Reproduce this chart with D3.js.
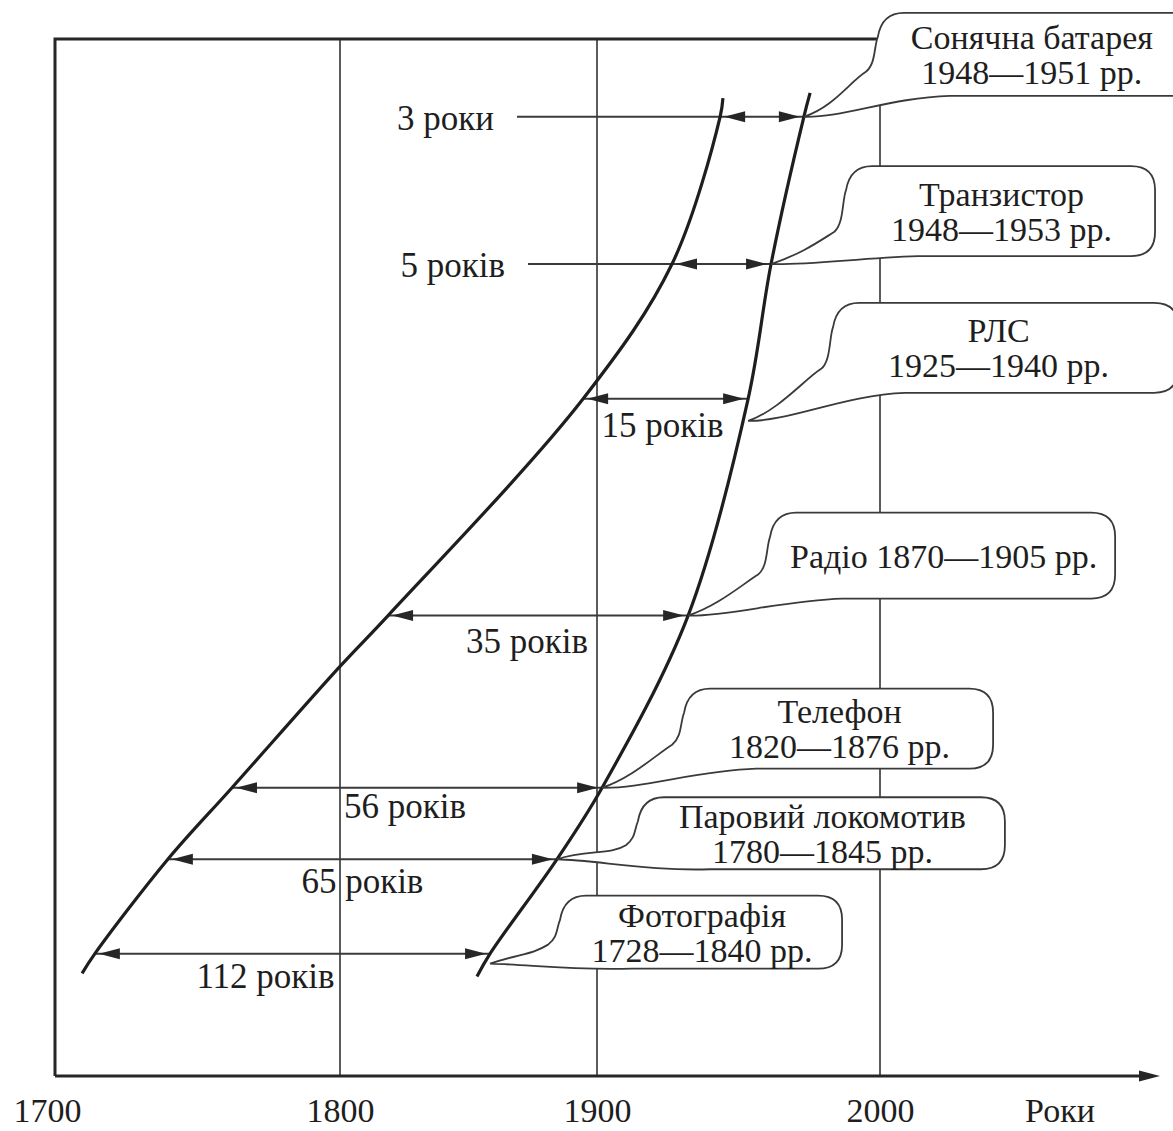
<!DOCTYPE html>
<html>
<head>
<meta charset="utf-8">
<script src="https://cdn.jsdelivr.net/npm/d3@7"></script>
<style>
  body { margin: 0; background: #fff; }
  svg text { font-family: "Liberation Serif", "DejaVu Serif", serif; fill: #1e1e1e; }
</style>
</head>
<body>
<div id="chart"></div>
<script>
// inventions, from the bottom row to the top row
var inventions = ["Фотографія", "Паровий локомотив", "Телефон", "Радіо", "РЛС", "Транзистор", "Сонячна батарея"];
var periods = ["1728—1840 рр.", "1780—1845 рр.", "1820—1876 рр.", "1870—1905 рр.", "1925—1940 рр.", "1948—1953 рр.", "1948—1951 рр."];
var gapLabels = ["112 років", "65 років", "56 років", "35 років", "15 років", "5 років", "3 роки"];

// height of each row on the (unlabelled) vertical axis, 0..100
var rowLevel = [11.8, 20.9, 27.8, 44.4, 65.3, 78.3, 92.5];
// where each row meets the two curves, read on the year axis
var ideaAt = [1714.0, 1739.6, 1762.1, 1818.7, 1894.6, 1926.5, 1943.5];
var realAt = [1858.4, 1884.4, 1901.8, 1932.2, 1953.4, 1961.5, 1973.1];

// the two curves: [year, level]
var ideaCurve = [[1709.5, 9.9], [1714.0, 11.8], [1739.6, 20.9], [1762.1, 27.8], [1800, 39.5],
  [1818.7, 44.4], [1894.6, 65.3], [1926.5, 78.3], [1943.5, 92.5], [1944.5, 94.3]];
var realCurve = [[1853.3, 9.6], [1858.4, 11.8], [1884.4, 20.9], [1901.8, 27.8], [1932.2, 44.4],
  [1953.4, 65.3], [1961.5, 78.3], [1973.1, 92.5], [1975.3, 94.8]];

var tickYears = [1700, 1800, 1900, 2000];

// ---- layout only (pixels) ----
var width = 1173, height = 1131;
// callout box relative to its pointer tip: dx, dy, w, h; tipDy moves the tip down the curve
var calloutBox = [
  { dx: 72, dy: -68, w: 280, h: 73, tipDy: 10 },
  { dx: 83, dy: -62, w: 365, h: 72, tipDy: 0 },
  { dx: 84, dy: -99, w: 307, h: 80, tipDy: 0 },
  { dx: 84, dy: -103, w: 343, h: 86, tipDy: 0 },
  { dx: 87, dy: -118, w: 343, h: 90, tipDy: 22 },
  { dx: 77, dy: -98, w: 307, h: 90, tipDy: 0 },
  { dx: 76, dy: -104, w: 320, h: 83, tipDy: 0 }
];
// gap labels: below the arrow (dx from arrow middle, baseline dy) or left of a long line
var gapLabelPos = [
  { dx: -27, dy: 34 }, { dx: 0, dy: 34 }, { dx: -12, dy: 30 }, { dx: -11, dy: 37 }, { dx: -3, dy: 38 },
  { left: 505, lineFrom: 528 }, { left: 494, lineFrom: 517 }
];

var x = d3.scaleLinear().domain(tickYears).range([55, 340, 597, 880]);
var y = d3.scaleLinear().domain([0, 100]).range([1076, 39]);

var svg = d3.select("#chart").append("svg")
  .attr("width", width)
  .attr("height", height);

var ink = "#262626";

// vertical grid lines
svg.selectAll("line.grid")
  .data(tickYears.slice(1))
  .enter()
  .append("line")
  .attr("class", "grid")
  .attr("x1", d => x(d)).attr("x2", d => x(d))
  .attr("y1", y(100)).attr("y2", y(0))
  .attr("stroke", "#4a4a4a")
  .attr("stroke-width", 1.8);

// frame: left side and top
svg.append("path")
  .attr("d", "M" + x(1700) + "," + y(0) + " V" + y(100) + " H" + x(2000))
  .attr("fill", "none")
  .attr("stroke", ink)
  .attr("stroke-width", 3);

// arrowhead helper
function arrowHead(tx, ty, dir) {
  return "M" + tx + "," + ty + " L" + (tx - dir * 21) + "," + (ty - 5.5) +
    " L" + (tx - dir * 21) + "," + (ty + 5.5) + " Z";
}

// rows: horizontal lines with arrows between the curves
inventions.forEach(function (name, i) {
  var yy = y(rowLevel[i]);
  var xl = x(ideaAt[i]), xr = x(realAt[i]);
  var pos = gapLabelPos[i];
  var start = pos.left ? pos.lineFrom : xl;
  svg.append("line")
    .attr("x1", start).attr("x2", xr)
    .attr("y1", yy).attr("y2", yy)
    .attr("stroke", "#3a3a3a")
    .attr("stroke-width", 2);
  svg.append("path").attr("d", arrowHead(xl + 4, yy, -1)).attr("fill", ink);
  svg.append("path").attr("d", arrowHead(xr - 4, yy, 1)).attr("fill", ink);

  if (pos.left) {
    svg.append("text")
      .attr("x", pos.left).attr("y", yy + 13)
      .attr("text-anchor", "end")
      .style("font-size", "35px")
      .text(gapLabels[i]);
  } else {
    svg.append("text")
      .attr("x", (xl + xr) / 2 + pos.dx).attr("y", yy + pos.dy)
      .attr("text-anchor", "middle")
      .style("font-size", "35px")
      .text(gapLabels[i]);
  }
});

// the two curves
var line = d3.line()
  .x(d => x(d[0]))
  .y(d => y(d[1]))
  .curve(d3.curveCatmullRom.alpha(0.5));

[ideaCurve, realCurve].forEach(function (c) {
  svg.append("path")
    .attr("d", line(c))
    .attr("fill", "none")
    .attr("stroke", "#1e1e1e")
    .attr("stroke-width", 3.2);
});

// callout bubble with a tail pointing at (tx, ty)
function bubblePath(x0, y0, x1, y1, tx, ty) {
  var r = 24;
  return "M" + (x0 + r) + "," + y0 +
    " H" + (x1 - r) +
    " Q" + x1 + "," + y0 + " " + x1 + "," + (y0 + r) +
    " V" + (y1 - r) +
    " Q" + x1 + "," + y1 + " " + (x1 - r) + "," + y1 +
    " H" + (x0 + 70) +
    " C" + (x0 + 10) + "," + (y1 + 2) + " " + (tx + 40) + "," + (ty + 1) + " " + tx + "," + ty +
    " C" + (tx + 30) + "," + (ty - 10) + " " + (x0 - 30) + "," + (y1 - 14) + " " + (x0 - 14) + "," + (y1 - 24) +
    " C" + (x0 - 4) + "," + (y1 - 32) + " " + (x0 - 6) + "," + (y0 + r + 10) + " " + (x0 - 2) + "," + (y0 + r) +
    " Q" + (x0 + 2) + "," + y0 + " " + (x0 + r) + "," + y0 + " Z";
}

inventions.forEach(function (name, i) {
  var b = calloutBox[i];
  var tx = x(realAt[i]), ty = y(rowLevel[i]) + b.tipDy;
  var x0 = tx + b.dx, y0 = ty + b.dy, x1 = x0 + b.w, y1 = y0 + b.h;
  svg.append("path")
    .attr("d", bubblePath(x0, y0, x1, y1, tx, ty))
    .attr("fill", "#fff")
    .attr("stroke", "#3a3a3a")
    .attr("stroke-width", 1.8);

  var cx = (x0 + x1) / 2 - (x1 > width ? 8 : 0), cy = (y0 + y1) / 2;
  var lines = name === "Радіо" ? [name + " " + periods[i]] : [name, periods[i]];
  lines.forEach(function (t, k) {
    svg.append("text")
      .attr("x", cx)
      .attr("y", cy + 12 + (k - (lines.length - 1) / 2) * 35)
      .attr("text-anchor", "middle")
      .style("font-size", "34px")
      .text(t);
  });
});

// bottom axis with arrow
svg.append("line")
  .attr("x1", x(1700)).attr("x2", 1140)
  .attr("y1", y(0)).attr("y2", y(0))
  .attr("stroke", ink)
  .attr("stroke-width", 3);
svg.append("path").attr("d", arrowHead(1160, y(0), 1)).attr("fill", ink);

var axis = svg.append("g")
  .attr("transform", "translate(0," + y(0) + ")")
  .call(d3.axisBottom(x).tickValues(tickYears).tickSize(0).tickPadding(22).tickFormat(d3.format("d")));
axis.select(".domain").remove();
axis.selectAll("text").style("font-size", "34px");
axis.selectAll(".tick").filter(d => d === 1700).select("text").attr("dx", -8);

svg.append("text")
  .attr("x", 1060).attr("y", y(0) + 46)
  .attr("text-anchor", "middle")
  .style("font-size", "34px")
  .text("Роки");
</script>
</body>
</html>
